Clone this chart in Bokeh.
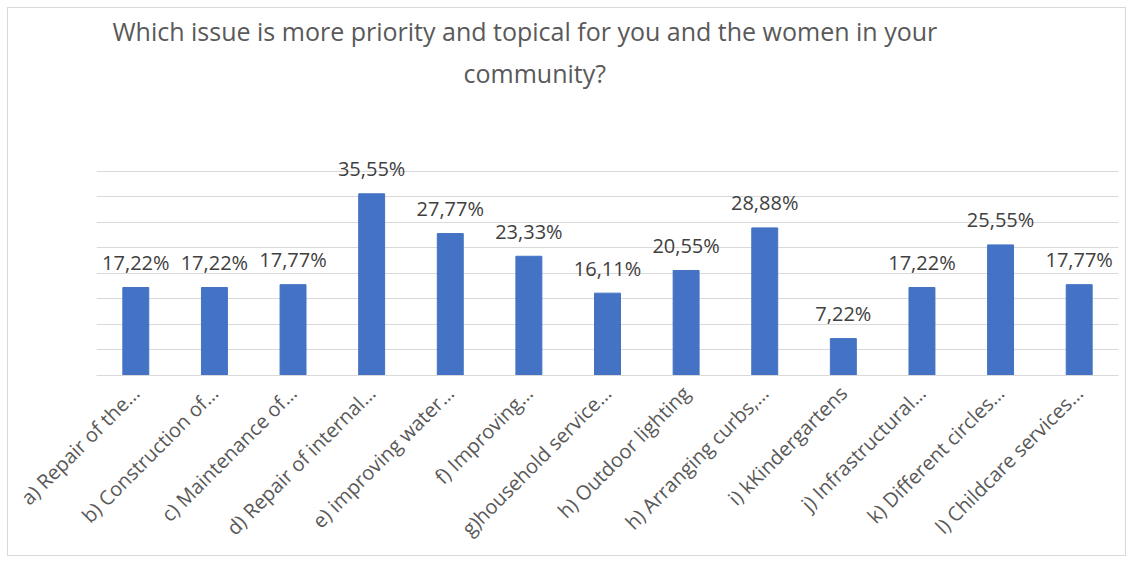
import math
from bokeh.plotting import figure
from bokeh.models import ColumnDataSource, LabelSet, Range1d, FixedTicker, FactorRange, Title
from bokeh.core.properties import value
from bokeh.embed import file_html
from bokeh.resources import INLINE

categories = [
    "a) Repair of the…", "b) Construction of…", "c) Maintenance of…",
    "d) Repair of internal…", "e) improving water…", "f) Improving…",
    "g)household service…", "h) Outdoor lighting", "h) Arranging curbs,…",
    "i) kKindergartens", "j) Infrastructural…", "k) Different circles…",
    "l) Childcare services…",
]
values = [17.22, 17.22, 17.77, 35.55, 27.77, 23.33, 16.11, 20.55, 28.88, 7.22, 17.22, 25.55, 17.77]
labels = [f"{v:.2f}".replace(".", ",") + "%" for v in values]
y_ticks = [0, 5, 10, 15, 20, 25, 30, 35, 40]

title_line1 = "Which issue is more priority and topical for you and the women in your"
title_line2 = "community?"

src = ColumnDataSource(dict(cat=categories, val=values, lab=labels))

p = figure(
    x_range=FactorRange(*categories, range_padding=0),
    y_range=Range1d(0, 45),
    frame_width=1022, frame_height=230,
    min_border_left=88, min_border_right=7, min_border_top=137, min_border_bottom=180,
    output_backend="svg", toolbar_location=None,
)
p.styles = {"border": "1px solid #d9d9d9", "margin-left": "7px", "margin-top": "7px"}
p.outline_line_color = None
p.background_fill_color = "white"
p.border_fill_color = "white"

p.vbar(x="cat", top="val", width=0.33, source=src, color="#4472C4")

p.add_layout(LabelSet(x="cat", y="val", text="lab", source=src, y_offset=25,
                      text_align="center", text_baseline="middle",
                      text_font=value("Open Sans"), text_font_size="20px", text_color="#404040"))

p.yaxis.visible = False
p.ygrid.ticker = FixedTicker(ticks=y_ticks)
p.ygrid.grid_line_color = "#d9d9d9"
p.xgrid.grid_line_color = None

p.xaxis.axis_line_color = "#d9d9d9"
p.xaxis.major_tick_line_color = None
p.xaxis.minor_tick_line_color = None
p.xaxis.major_label_orientation = math.pi / 4
p.xaxis.major_label_text_font = "Open Sans"
p.xaxis.major_label_text_font_size = "20px"
p.xaxis.major_label_text_color = "#595959"
p.xaxis.major_label_standoff = 8


def make_title(text, standoff, offset, size="25px"):
    kw = dict(text=text, align="left", offset=offset, text_font="Open Sans",
              text_font_size=size, text_font_style="normal", text_color="#595959")
    try:
        return Title(standoff=standoff, **kw)
    except AttributeError:
        return Title(**kw)


p.add_layout(make_title(" ", 17, 0), "above")          # spacer between title and chart
p.add_layout(make_title(title_line2, 6, 367), "above")
p.add_layout(make_title(title_line1, 6, 16), "above")

open("out.html", "w").write(file_html(p, INLINE))
